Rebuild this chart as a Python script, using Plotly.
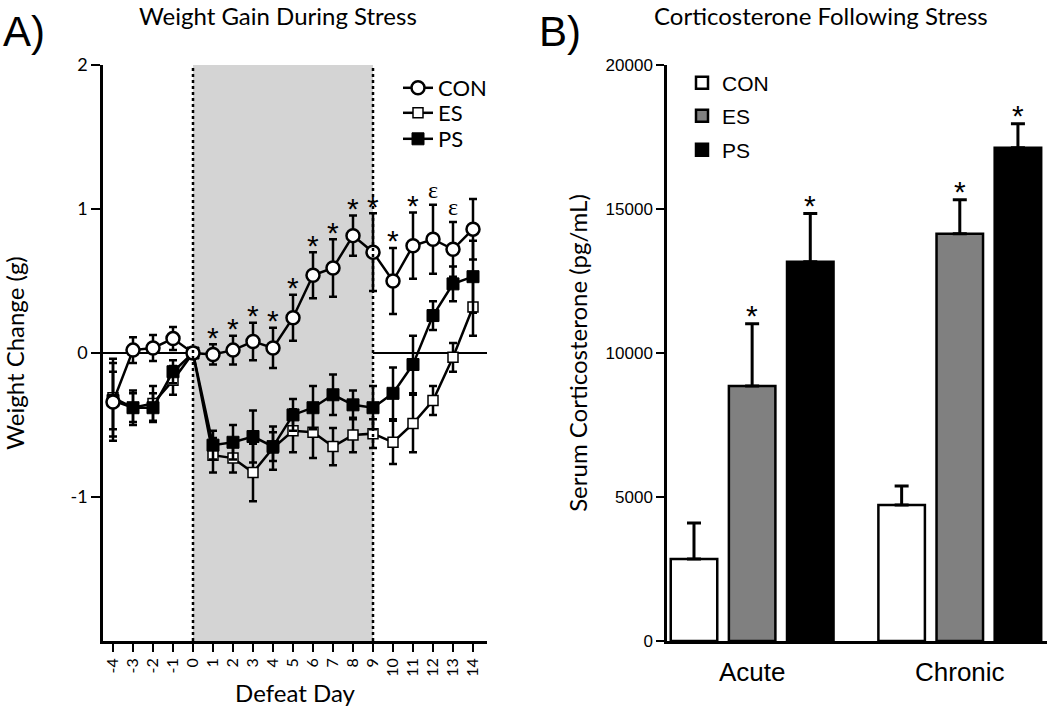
import plotly.graph_objects as go

# ---------------- Data: Panel A (weight change, g) ----------------
days = list(range(-4, 15))
con_mean = [-0.34, 0.02, 0.035, 0.10, 0.0, -0.01, 0.02, 0.08, 0.035, 0.245,
            0.54, 0.59, 0.815, 0.70, 0.50, 0.745, 0.79, 0.72, 0.86]
con_err = [0.27, 0.09, 0.09, 0.08, 0.0, 0.07, 0.10, 0.13, 0.14, 0.16,
           0.16, 0.20, 0.14, 0.27, 0.23, 0.23, 0.24, 0.19, 0.21]
es_mean = [-0.31, -0.38, -0.35, -0.19, 0.0, -0.71, -0.73, -0.83, -0.66, -0.54,
           -0.55, -0.65, -0.57, -0.56, -0.62, -0.49, -0.33, -0.03, 0.32]
es_err = [0.27, 0.12, 0.12, 0.10, 0.0, 0.12, 0.10, 0.20, 0.15, 0.15,
          0.18, 0.13, 0.12, 0.10, 0.15, 0.20, 0.10, 0.10, 0.20]
ps_mean = [-0.33, -0.38, -0.38, -0.13, 0.0, -0.64, -0.62, -0.58, -0.65, -0.43,
           -0.38, -0.29, -0.36, -0.38, -0.28, -0.08, 0.26, 0.48, 0.53]
ps_err = [0.20, 0.10, 0.10, 0.08, 0.0, 0.10, 0.12, 0.18, 0.10, 0.11,
          0.15, 0.14, 0.10, 0.15, 0.18, 0.20, 0.10, 0.12, 0.25]
sig_days = [1, 2, 3, 4, 5, 6, 7, 8, 9, 10, 11, 12, 13]
sig_labels = ["*", "*", "*", "*", "*", "*", "*", "*", "*", "*", "*", "ε", "ε"]
stress_start, stress_end = 0, 9
weight_ticks = [-1, 0, 1, 2]

# ---------------- Data: Panel B (corticosterone, pg/mL) ----------------
conditions = ["Acute", "Chronic"]
cort_con = [2850, 4725]
cort_con_err = [1250, 660]
cort_es = [8850, 14140]
cort_es_err = [2165, 1180]
cort_ps = [13170, 17130]
cort_ps_err = [1670, 830]
cort_sig = {"ES": ["*", "*"], "PS": ["*", "*"]}
cort_ticks = [0, 5000, 10000, 15000, 20000]

SANS = "Lato"
ARIAL = "Liberation Sans"
W, H = 1050, 718


def px_x(p):
    return p / W


def px_y(p):
    return 1 - p / H


fig = go.Figure()

# ---- Panel A traces ----
fig.add_trace(go.Scatter(
    x=days, y=es_mean, name="ES", mode="lines+markers",
    line=dict(color="black", width=2.5),
    marker=dict(symbol="square", size=10, color="white", line=dict(color="black", width=1.5)),
    error_y=dict(type="data", array=es_err, color="black", thickness=2.5, width=4),
    xaxis="x", yaxis="y", legend="legend3"))
fig.add_trace(go.Scatter(
    x=days, y=ps_mean, name="PS", mode="lines+markers",
    line=dict(color="black", width=2.5),
    marker=dict(symbol="square", size=12, color="black", line=dict(color="black", width=1)),
    error_y=dict(type="data", array=ps_err, color="black", thickness=2.5, width=4),
    xaxis="x", yaxis="y", legend="legend4"))
fig.add_trace(go.Scatter(
    x=days, y=con_mean, name="CON", mode="lines+markers",
    line=dict(color="black", width=2.5),
    marker=dict(symbol="circle", size=13, color="white", line=dict(color="black", width=2.5)),
    error_y=dict(type="data", array=con_err, color="black", thickness=2.5, width=4),
    xaxis="x", yaxis="y", legend="legend"))

# significance marks above CON error bars
for d, lab in zip(sig_days, sig_labels):
    i = days.index(d)
    top = con_mean[i] + con_err[i]
    if lab == "*":
        fig.add_annotation(x=d, y=top, xref="x", yref="y", text=lab, showarrow=False,
                           xanchor="center", yanchor="middle", yshift=7,
                           font=dict(family=ARIAL, size=30, color="black"))
    else:
        fig.add_annotation(x=d, y=top, xref="x", yref="y", text=lab, showarrow=False,
                           xanchor="center", yanchor="middle", yshift=15,
                           font=dict(family="Liberation Serif", size=24, color="black"))

# ---- Panel B traces ----
offsets = [-0.28, 0.0, 0.28]
bar_w = 0.224
series = [("CON", cort_con, cort_con_err, "white", "legend2"),
          ("ES", cort_es, cort_es_err, "#808080", "legend5"),
          ("PS", cort_ps, cort_ps_err, "black", "legend6")]
for k, (name, vals, errs, col, lg) in enumerate(series):
    xs = [g + offsets[k] for g in range(len(conditions))]
    fig.add_trace(go.Bar(
        x=xs, y=vals, width=bar_w, name=name,
        marker=dict(color=col, line=dict(color="black", width=2.5)),
        error_y=dict(type="data", symmetric=False, array=errs, arrayminus=[0] * len(errs),
                     color="black", thickness=3, width=7),
        xaxis="x2", yaxis="y2", legend=lg))
    if name in cort_sig:
        for g, lab in enumerate(cort_sig[name]):
            fig.add_annotation(x=xs[g], y=vals[g] + errs[g], xref="x2", yref="y2", text=lab,
                               showarrow=False, xanchor="center", yanchor="middle", yshift=8,
                               font=dict(family=ARIAL, size=30, color="black"))

# ---- shapes for panel A ----
fig.add_shape(type="rect", xref="x", yref="y", x0=stress_start, x1=stress_end, y0=-2, y1=2,
              fillcolor="#d4d4d4", line=dict(width=0), layer="below")
for xv in (stress_start, stress_end):
    fig.add_shape(type="line", xref="x", yref="y", x0=xv, x1=xv, y0=-2, y1=2,
                  line=dict(color="black", width=2.5, dash="dot"))
fig.add_shape(type="line", xref="x domain", yref="y", x0=0, x1=1, y0=0, y1=0,
              line=dict(color="black", width=2), layer="below")

# ---- titles & panel letters ----
fig.add_annotation(x=px_x(278), y=px_y(16), xref="paper", yref="paper", text="Weight Gain During Stress",
                   xanchor="center", yanchor="middle",
                   showarrow=False, font=dict(family=SANS, size=24, color="black"))
fig.add_annotation(x=px_x(821), y=px_y(16), xref="paper", yref="paper", text="Corticosterone Following Stress",
                   xanchor="center", yanchor="middle",
                   showarrow=False, font=dict(family=SANS, size=24, color="black"))
fig.add_annotation(x=px_x(1), y=px_y(31), xref="paper", yref="paper", text="A)", xanchor="left", yanchor="middle",
                   showarrow=False, font=dict(family=ARIAL, size=42, color="black"))
fig.add_annotation(x=px_x(537), y=px_y(31), xref="paper", yref="paper", text="B)", xanchor="left",
                   yanchor="middle", showarrow=False, font=dict(family=ARIAL, size=42, color="black"))

ydom = [px_y(641), px_y(65)]


def leg(xp, yp, family, size):
    return dict(x=px_x(xp), y=px_y(yp), xanchor="left", yanchor="middle",
                font=dict(family=family, size=size, color="black"), bgcolor="rgba(0,0,0,0)",
                itemwidth=30, borderwidth=0)


fig.update_layout(
    width=W, height=H,
    margin=dict(l=0, r=0, t=0, b=0, autoexpand=False),
    paper_bgcolor="white", plot_bgcolor="white",
    barmode="overlay",
    showlegend=True,
    xaxis=dict(domain=[px_x(103), px_x(487)], range=[-4.5, 14.7], automargin=False,
               tickmode="array", tickvals=days, ticktext=[str(d) for d in days],
               tickangle=-90, ticks="outside", ticklen=8, tickwidth=2, tickcolor="black",
               showline=True, linecolor="black", linewidth=2.5, showgrid=False, zeroline=False,
               tickfont=dict(family=SANS, size=16, color="black"),
               title=dict(text="Defeat Day", font=dict(family=SANS, size=24, color="black"), standoff=10)),
    yaxis=dict(domain=ydom, range=[-2, 2], automargin=False,
               tickmode="array", tickvals=weight_ticks, ticktext=[str(t) for t in weight_ticks],
               ticks="outside", ticklen=9, tickwidth=2, tickcolor="black",
               showline=True, linecolor="black", linewidth=2.5, showgrid=False, zeroline=False,
               tickfont=dict(family=SANS, size=18, color="black"),
               title=dict(text="Weight Change (g)", font=dict(family=SANS, size=24, color="black"), standoff=41)),
    xaxis2=dict(domain=[px_x(667), px_x(1047)], range=[-0.41, 1.42], anchor="y2", automargin=False,
                tickmode="array", tickvals=list(range(len(conditions))), ticktext=conditions,
                ticks="", showline=True, linecolor="black", linewidth=2.5, showgrid=False, zeroline=False,
                tickfont=dict(family=ARIAL, size=26, color="black"), ticklabelstandoff=6),
    yaxis2=dict(domain=ydom, range=[0, 20000], anchor="x2", automargin=False,
                tickmode="array", tickvals=cort_ticks, ticktext=[str(t) for t in cort_ticks],
                ticks="outside", ticklen=8, tickwidth=2, tickcolor="black",
                showline=True, linecolor="black", linewidth=2.5, showgrid=False, zeroline=False,
                tickfont=dict(family=ARIAL, size=17, color="black"),
                title=dict(text="Serum Corticosterone (pg/mL)", font=dict(family=SANS, size=24, color="black"),
                           standoff=12)),
    legend=leg(398, 88, SANS, 22),
    legend3=leg(398, 113, SANS, 22),
    legend4=leg(398, 139, SANS, 22),
    legend2=leg(682, 83, ARIAL, 21),
    legend5=leg(682, 116, ARIAL, 21),
    legend6=leg(682, 150, ARIAL, 21),
)

# remove the default page margin so the figure fills the window exactly; hide the mode bar
fig.write_html("out.html", config={"displayModeBar": False},
               post_script="document.body.style.margin='0';")
